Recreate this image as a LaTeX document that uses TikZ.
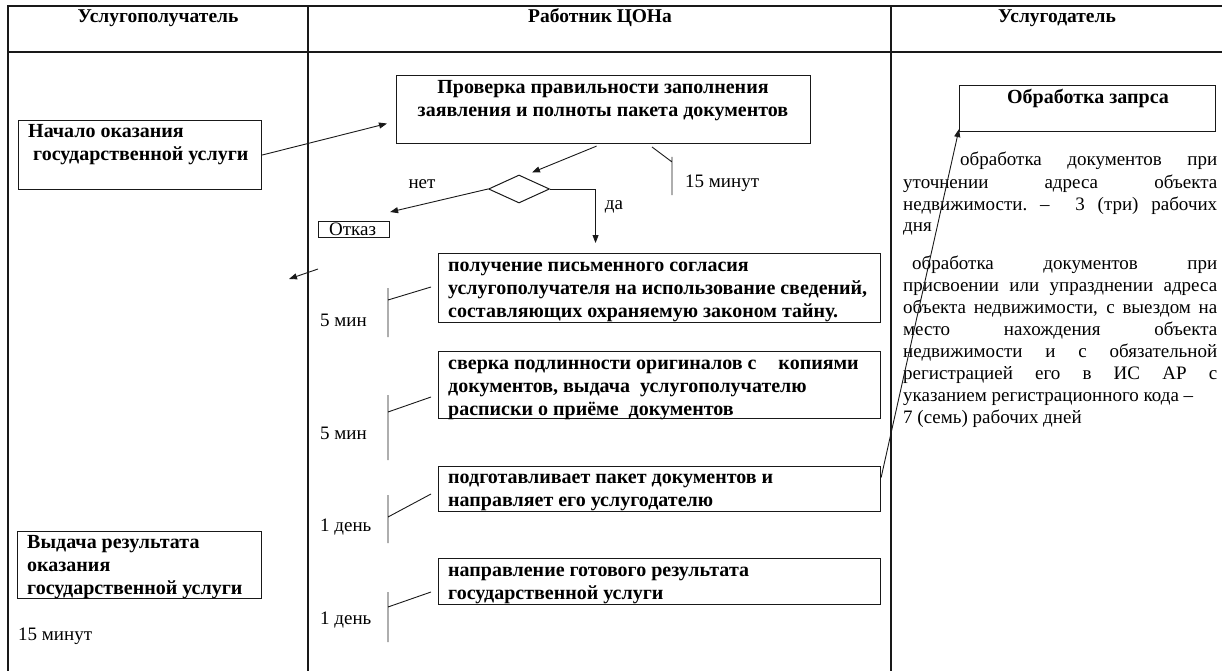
\documentclass[tikz,border=0pt]{standalone}
\usepackage{fontspec}
\setmainfont{Liberation Serif}
\usetikzlibrary{arrows.meta,shapes.geometric}
\definecolor{ink}{gray}{0.1}
\newcommand{\txtsize}{\fontsize{19pt}{22pt}\selectfont}
\newcommand{\boldsize}{\fontsize{20pt}{23pt}\selectfont\bfseries}
\newcommand{\headsize}{\fontsize{19.5pt}{23pt}\selectfont\bfseries}
\begin{document}
\begin{tikzpicture}[x=1pt,y=-1pt,
  every node/.style={font=\txtsize, text=black},
  rule/.style={draw=ink, line width=1.2pt},
  stepbox/.style={draw=ink, line width=1.1pt, inner sep=0pt, anchor=north west},
  conn/.style={draw=ink, line width=0.9pt},
  arr/.style={conn, -{Triangle[length=8pt,width=6pt]}},
  txt/.style={inner sep=0pt, anchor=base west},
  btxt/.style={txt, font=\boldsize},
  htxt/.style={inner sep=0pt, anchor=base, font=\headsize}]
\useasboundingbox (0,0) rectangle (1222,671);

% table frame
\draw[rule] (8,671) -- (8,6) -- (1222,6);
\draw[rule] (8,52) -- (1222,52);
\draw[rule] (308,6) -- (308,671);
\draw[rule] (891,6) -- (891,671);

% column headings
\node[htxt] (h1) at (158,23) {Услугополучатель};
\node[htxt] (h2) at (600,23) {Работник ЦОНа};
\node[htxt] (h3) at (1057,23) {Услугодатель};

% client column
\node[stepbox, minimum width=243pt, minimum height=69pt] (start) at (18,120) {};
\node[btxt] (startT) at (28,138) {\parbox[t]{230pt}{Начало оказания\\\hspace*{5pt}государственной услуги}};
\node[stepbox, minimum width=244pt, minimum height=67pt] (issue) at (17,531) {};
\node[btxt] (issueT) at (27,548) {\parbox[t]{232pt}{Выдача результата\\оказания\\государственной услуги}};
\node[txt] (issueTime) at (18,640) {15 минут};

% operator column
\node[stepbox, minimum width=414pt, minimum height=68pt] (check) at (396,75) {};
\node[btxt, anchor=base] (checkT) at (603,94) {\parbox[t]{410pt}{\centering Проверка правильности заполнения\\заявления и полноты пакета документов}};
\node[draw=ink, line width=1pt, shape=diamond, minimum width=61pt, minimum height=28pt, inner sep=0pt] (dia) at (519,189) {};
\node[stepbox, minimum width=71pt, minimum height=16pt] (otkaz) at (318,221) {};
\node[txt] (otkazT) at (329,235) {Отказ};
\node[txt, anchor=base] (net) at (422,188) {нет};
\node[txt, anchor=base] (da) at (614,209) {да};
\node[txt] (checkTime) at (685,187) {15 минут};

\node[stepbox, minimum width=442pt, minimum height=69pt] (boxA) at (438,253) {};
\node[btxt] (boxAT) at (448,271) {\parbox[t]{430pt}{получение письменного согласия\\услугополучателя на использование сведений,\\составляющих охраняемую законом тайну.}};
\node[stepbox, minimum width=442pt, minimum height=67pt] (boxB) at (438,351) {};
\node[btxt] (boxBT) at (448,369) {\parbox[t]{430pt}{сверка подлинности оригиналов с\hspace{22pt}копиями\\документов, выдача\ \ услугополучателю\\расписки о приёме\ \ документов}};
\node[stepbox, minimum width=442pt, minimum height=45pt] (boxC) at (438,466) {};
\node[btxt] (boxCT) at (448,483) {\parbox[t]{430pt}{подготавливает пакет документов и\\направляет его услугодателю}};
\node[stepbox, minimum width=442pt, minimum height=46pt] (boxD) at (438,558) {};
\node[btxt] (boxDT) at (448,576) {\parbox[t]{430pt}{направление готового результата\\государственной услуги}};

\node[txt] (tA) at (320,326) {5 мин};
\node[txt] (tB) at (320,439) {5 мин};
\node[txt] (tC) at (320,531) {1 день};
\node[txt] (tD) at (320,624) {1 день};

% provider column
\node[stepbox, minimum width=256pt, minimum height=46pt] (obr) at (959,85) {};
\node[btxt, anchor=base] (obrT) at (1088,104) {Обработка запрса};
\node[txt] (p1) at (903,166) {\parbox[t]{314pt}{\tolerance=10000\hbadness=10000
\hspace*{57pt}обработка документов при\linebreak
уточнении адреса объекта\linebreak
недвижимости.~–~~3 (три) рабочих\linebreak
дня}};
\node[txt] (p2) at (903,269) {\parbox[t]{314pt}{\tolerance=10000\hbadness=10000
\hspace*{9pt}обработка документов при\linebreak
присвоении или упразднении адреса\linebreak
объекта недвижимости, с выездом на\linebreak
место нахождения объекта\linebreak
недвижимости и с обязательной\linebreak
регистрацией его в ИС АР с\linebreak
\mbox{указанием регистрационного кода –}\\
7 (семь) рабочих дней}};

% flow connectors
\draw[arr] (start.east) -- ([xshift=-9pt,yshift=-14pt]check.west);
\draw[arr] ([xshift=-7pt,yshift=-2pt]check.south) -- ([xshift=13pt,yshift=2pt]dia.north);
\draw[arr] (dia.west) -- ([yshift=9pt]otkaz.north east);
\draw[arr] (dia.east) -| ([xshift=-64pt,yshift=10pt]boxA.north);
\draw[arr] ([yshift=11.5pt]boxC.east) -- ([yshift=3pt]obr.south west);
\coordinate (strayA) at (318,269);
\coordinate (strayB) at (289,279);
\draw[arr] (strayA) -- (strayB);

% duration ticks
\draw[conn] (652,147) -- (672,162) (672,157) -- (672,195);
\draw[conn] (388,288) -- (388,337) (388,300) -- (431,287);
\draw[conn] (388,395) -- (388,460) (388,412) -- (431,397);
\draw[conn] (388,495) -- (388,543) (388,517) -- (431,494);
\draw[conn] (388,592) -- (388,642) (388,607) -- (431,592);
\end{tikzpicture}
\end{document}
